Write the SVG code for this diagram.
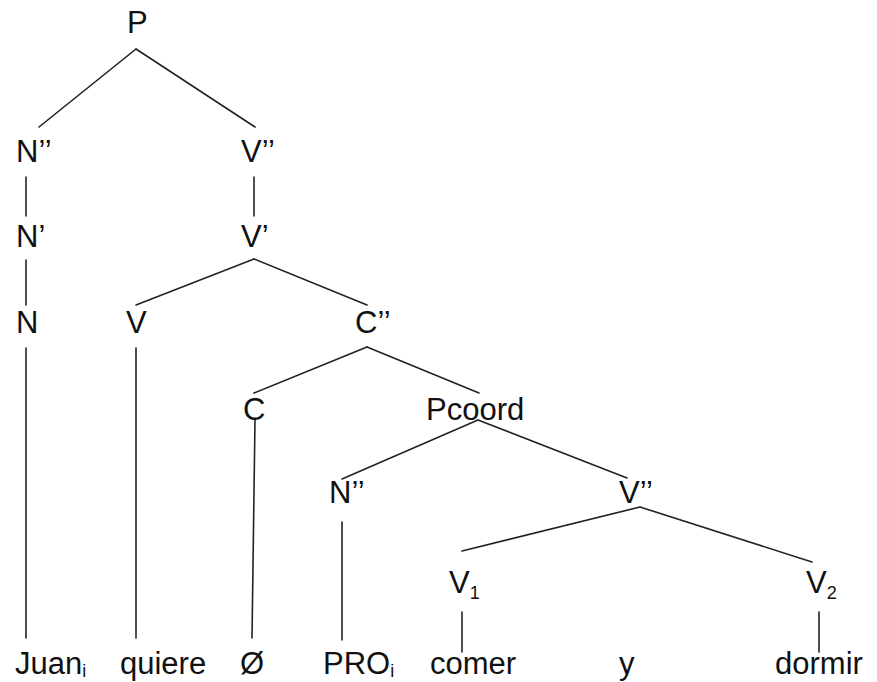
<svg xmlns="http://www.w3.org/2000/svg" width="877" height="682" viewBox="0 0 877 682">
<style>
text{font-family:"Liberation Sans",Arial,sans-serif;font-size:31px;fill:#111}
.sub{font-size:18px}
#edges line{stroke:#222;stroke-width:1.6;stroke-linecap:round}
</style>
<rect width="877" height="682" fill="#fff"/>
<g id="edges">
<line x1="136" y1="49" x2="39" y2="127"/>
<line x1="136" y1="49" x2="255" y2="127"/>
<line x1="26" y1="177" x2="26" y2="216"/>
<line x1="254" y1="177" x2="254" y2="216"/>
<line x1="26" y1="260" x2="26" y2="305"/>
<line x1="254" y1="259" x2="136" y2="305"/>
<line x1="254" y1="259" x2="367" y2="305"/>
<line x1="26" y1="348" x2="26" y2="638"/>
<line x1="136" y1="348" x2="136" y2="638"/>
<line x1="367" y1="347" x2="254" y2="393"/>
<line x1="367" y1="347" x2="479" y2="393"/>
<line x1="255" y1="420" x2="252" y2="638"/>
<line x1="478" y1="420" x2="342" y2="479"/>
<line x1="478" y1="420" x2="627" y2="478"/>
<line x1="342" y1="522" x2="342" y2="640"/>
<line x1="640" y1="507" x2="462" y2="551"/>
<line x1="640" y1="507" x2="812" y2="562"/>
<line x1="462" y1="612" x2="462" y2="652"/>
<line x1="819" y1="612" x2="819" y2="652"/>
</g>
<g id="P"><text x="127" y="33">P</text></g>
<g id="N2"><text x="16" y="162">N’’</text></g>
<g id="V2bar"><text x="241" y="162">V’’</text></g>
<g id="N1"><text x="16" y="247">N’</text></g>
<g id="V1bar"><text x="241" y="247">V’</text></g>
<g id="N"><text x="16" y="333">N</text></g>
<g id="V"><text x="126" y="333">V</text></g>
<g id="C2"><text x="355" y="333">C’’</text></g>
<g id="C"><text x="243" y="420">C</text></g>
<g id="Pcoord"><text x="426" y="420">Pcoord</text></g>
<g id="N2b"><text x="329" y="503">N’’</text></g>
<g id="V2b"><text x="619" y="503">V’’</text></g>
<g id="Vsub1"><text x="449" y="593">V<tspan class="sub" dy="6">1</tspan></text></g>
<g id="Vsub2"><text x="806" y="593">V<tspan class="sub" dy="6">2</tspan></text></g>
<g id="Juan"><text x="15" y="674">Juan<tspan class="sub" dy="3">i</tspan></text></g>
<g id="quiere"><text x="120" y="674">quiere</text></g>
<g id="empty"><text x="240" y="674">Ø</text></g>
<g id="PRO"><text x="323" y="674">PRO<tspan class="sub" dy="3">i</tspan></text></g>
<g id="comer"><text x="430" y="674">comer</text></g>
<g id="y"><text x="619" y="674">y</text></g>
<g id="dormir"><text x="775" y="674">dormir</text></g>
</svg>
